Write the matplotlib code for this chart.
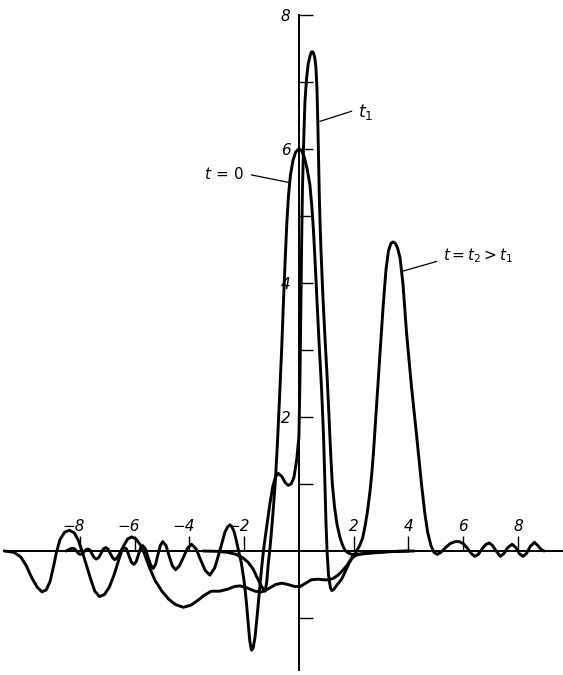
import numpy as np
import matplotlib
matplotlib.use("Agg")
import matplotlib.pyplot as plt

plt.rcParams["font.family"] = ["DejaVu Sans"]
plt.rcParams["mathtext.fontset"] = "dejavusans"
plt.rcParams["mathtext.default"] = "it"

# ── dane ─────────────────────────────────────────────────────────────────
# t = 0 : impuls początkowy
t0_x = [-3.5, -3.0, -2.6, -2.3, -2.05, -1.85, -1.67, -1.52, -1.4, -1.3, -1.23,
        -1.17, -1.12, -1.06, -1.0, -0.93, -0.86, -0.79, -0.7, -0.63, -0.57,
        -0.5, -0.44, -0.38, -0.31, -0.22, -0.12, 0.0, 0.1, 0.2, 0.3, 0.4,
        0.47, 0.53, 0.6, 0.67, 0.75, 0.83, 0.9, 0.95, 0.99, 1.03, 1.08, 1.15,
        1.2, 1.28, 1.4, 1.56, 1.7, 1.82, 1.95, 2.1, 2.4, 2.8, 3.3, 4.0]
t0_y = [0.0, -0.005, -0.02, -0.05, -0.1, -0.17, -0.27, -0.4, -0.5, -0.57, -0.6,
        -0.45, -0.2, 0.02, 0.3, 0.65, 1.05, 1.55, 2.35, 3.0, 3.65,
        4.35, 4.9, 5.3, 5.6, 5.82, 5.95, 6.0, 5.97, 5.87, 5.7, 5.47,
        5.15, 4.8, 4.25, 3.65, 3.0, 2.4, 1.7, 1.0, 0.4, -0.02, -0.35, -0.55,
        -0.59, -0.57, -0.5, -0.42, -0.3, -0.19, -0.1, -0.06, -0.04, -0.025, -0.01, 0.0]

# t = t1 (ogon oscylacyjny z lewej, wąski wysoki pik)
t1_x = [-8.5, -8.42, -8.33, -8.25, -8.18, -8.11, -8.04, -7.98, -7.91, -7.84,
        -7.77, -7.7, -7.62, -7.55, -7.47, -7.4, -7.31, -7.22, -7.14, -7.05,
        -6.97, -6.88, -6.8, -6.72, -6.63, -6.55, -6.46, -6.38, -6.29, -6.2,
        -6.11, -6.02, -5.94, -5.86, -5.78, -5.7, -5.6, -5.51, -5.41, -5.32,
        -5.23, -5.15, -5.06, -4.97, -4.85, -4.74, -4.62, -4.5, -4.36, -4.21,
        -4.07, -3.92, -3.75, -3.59, -3.42, -3.25, -3.07, -2.89, -2.7, -2.6,
        -2.52, -2.44, -2.36, -2.28, -2.2, -2.1, -2.0, -1.92, -1.85, -1.79,
        -1.73, -1.67, -1.6, -1.52, -1.44, -1.36, -1.28, -1.18, -1.06, -0.96,
        -0.86, -0.76, -0.62, -0.5, -0.39, -0.28, -0.18, -0.08, 0.0, 0.04,
        0.07, 0.1, 0.13, 0.17, 0.22, 0.28, 0.34, 0.41, 0.45, 0.49,
        0.53, 0.58, 0.62, 0.66, 0.69, 0.72, 0.75, 0.8, 0.87, 0.95,
        1.03, 1.1, 1.16, 1.22, 1.3, 1.39, 1.5, 1.6, 1.68, 1.8,
        1.93, 2.1, 2.5, 3.0, 3.6, 4.2]
t1_y = [0.0, 0.015, 0.035, 0.04, 0.03, -0.005, -0.04, -0.05, -0.04, -0.01,
        0.02, 0.03, 0.01, -0.045, -0.1, -0.12, -0.1, -0.035, 0.03, 0.05,
        0.03, -0.04, -0.1, -0.13, -0.1, -0.04, 0.03, 0.05, 0.03, -0.075,
        -0.17, -0.2, -0.16, -0.06, 0.04, 0.08, 0.03, -0.09, -0.21, -0.26,
        -0.2, -0.06, 0.08, 0.14, 0.08, -0.07, -0.22, -0.28, -0.22, -0.09,
        0.04, 0.1, 0.03, -0.13, -0.29, -0.36, -0.25, 0.0, 0.28, 0.36,
        0.39, 0.36, 0.28, 0.15, 0.0, -0.18, -0.45, -0.75, -1.08, -1.35,
        -1.48, -1.45, -1.28, -0.95, -0.6, -0.25, 0.05, 0.35, 0.7, 0.95,
        1.1, 1.16, 1.11, 1.02, 0.98, 1.0, 1.1, 1.36, 1.7, 2.6,
        3.6, 4.6, 5.4, 6.05, 6.7, 7.05, 7.27, 7.39, 7.44, 7.45,
        7.43, 7.36, 7.22, 6.9, 6.4, 5.8, 5.2, 4.55, 3.85, 3.2,
        2.6, 2.0, 1.45, 1.0, 0.66, 0.4, 0.2, 0.08, 0.01, -0.03,
        -0.05, -0.05, -0.03, -0.015, -0.005, 0.0]

# t = t2 > t1 (soliton + półka + promieniowanie)
t2_x = [-10.75, -10.4, -10.15, -9.95, -9.75, -9.55, -9.38, -9.22, -9.08, -8.95,
        -8.85, -8.72, -8.55, -8.38, -8.2, -8.05, -7.9, -7.75, -7.6, -7.45,
        -7.28, -7.1, -6.92, -6.75, -6.58, -6.42, -6.25, -6.1, -5.95, -5.8,
        -5.65, -5.45, -5.25, -5.0, -4.75, -4.5, -4.22, -3.95, -3.7, -3.45,
        -3.2, -2.9, -2.6, -2.35, -2.15, -1.9, -1.6, -1.35, -1.1, -0.85,
        -0.62, -0.4, -0.15, 0.05, 0.25, 0.45, 0.7, 0.9, 1.07, 1.25,
        1.43, 1.62, 1.8, 1.95, 2.08, 2.23, 2.33, 2.41, 2.5, 2.59,
        2.66, 2.72, 2.84, 2.96, 3.08, 3.18, 3.27, 3.36, 3.44, 3.52,
        3.6, 3.69, 3.8, 3.93, 4.11, 4.3, 4.48, 4.6, 4.7, 4.82,
        4.93, 5.05, 5.18, 5.35, 5.52, 5.7, 5.85, 6.0, 6.15, 6.3,
        6.42, 6.55, 6.7, 6.83, 6.95, 7.07, 7.2, 7.35, 7.48, 7.62,
        7.78, 7.92, 8.05, 8.18, 8.3, 8.45, 8.6, 8.72, 8.85, 8.95]
t2_y = [0.0, -0.02, -0.09, -0.22, -0.4, -0.54, -0.61, -0.58, -0.45, -0.22,
        -0.02, 0.17, 0.28, 0.31, 0.27, 0.16, -0.02, -0.22, -0.42, -0.6,
        -0.68, -0.65, -0.54, -0.36, -0.14, 0.06, 0.18, 0.21, 0.18, 0.1,
        -0.03, -0.25, -0.44, -0.6, -0.72, -0.8, -0.84, -0.81, -0.74, -0.66,
        -0.6, -0.6, -0.57, -0.53, -0.52, -0.55, -0.6, -0.61, -0.56, -0.5,
        -0.48, -0.5, -0.53, -0.53, -0.48, -0.43, -0.42, -0.43, -0.43, -0.41,
        -0.36, -0.28, -0.19, -0.09, -0.02, 0.09, 0.2, 0.36, 0.58, 0.87,
        1.15, 1.46, 2.2, 2.95, 3.68, 4.2, 4.48, 4.59, 4.61, 4.59,
        4.52, 4.38, 3.98, 3.25, 2.45, 1.71, 0.98, 0.55, 0.28, 0.08,
        -0.02, -0.05, -0.02, 0.05, 0.11, 0.14, 0.14, 0.11, 0.04, -0.04,
        -0.08, -0.05, 0.04, 0.1, 0.12, 0.08, 0.0, -0.08, -0.04, 0.05,
        0.1, 0.05, -0.04, -0.08, -0.04, 0.07, 0.13, 0.08, 0.02, 0.0]

x_ticks = [-8, -6, -4, -2, 2, 4, 6, 8]
y_ticks = [-1, 1, 2, 3, 4, 5, 6, 7, 8]
y_labels = ["", "", "2", "", "4", "", "6", "", "8"]

# ── rysunek ──────────────────────────────────────────────────────────────
fig = plt.figure(figsize=(5.63, 6.75), dpi=100)
ax = fig.add_axes([0, 0, 1, 1])
ax.set_xlim(-10.91, 9.64)
ax.set_ylim(-1.85, 8.22)

for xs, ys in [(t0_x, t0_y), (t1_x, t1_y), (t2_x, t2_y)]:
    ax.plot(xs, ys, color="black", lw=2.1, solid_capstyle="round",
            solid_joinstyle="round", zorder=3)

# osie przez zero
ax.spines["top"].set_visible(False)
ax.spines["right"].set_visible(False)
ax.spines["bottom"].set_position(("data", 0))
ax.spines["left"].set_position(("data", 0))
ax.spines["bottom"].set_bounds(-10.75, 9.64)
ax.spines["left"].set_bounds(-1.78, 8.0)
ax.spines["bottom"].set_linewidth(1.4)
ax.spines["left"].set_linewidth(1.4)

ax.set_xticks(x_ticks)
ax.set_xticklabels([])
ax.tick_params(axis="x", direction="in", length=10.5, width=1.0)
ax.set_yticks(y_ticks)
ax.set_yticklabels(y_labels, style="italic", fontsize=11)
ax.tick_params(axis="y", direction="in", length=10, width=1.0, pad=6)

for xt in x_ticks:
    if xt < 0:
        ax.text(xt + 0.2, 0.37, "\u2212" + str(-xt), ha="right", va="center",
                style="italic", fontsize=11)
    else:
        ax.text(xt, 0.37, str(xt), ha="center", va="center",
                style="italic", fontsize=11)

# podpisy krzywych z liniami odniesienia
ax.plot([-1.73, -0.39], [5.61, 5.5], color="black", lw=0.9)
ax.text(-2.74, 5.63, "$t\\,=\\,0$", ha="center", va="center", fontsize=11)

ax.plot([0.77, 1.92], [6.41, 6.56], color="black", lw=0.9)
ax.text(2.45, 6.55, "$t_1$", ha="center", va="center", fontsize=12.5)

ax.plot([3.75, 5.03], [4.17, 4.32], color="black", lw=0.9)
ax.text(6.53, 4.4, "$t = t_2 > t_1$", ha="center", va="center", fontsize=11)

fig.savefig("out.png", dpi=100, facecolor="white")
